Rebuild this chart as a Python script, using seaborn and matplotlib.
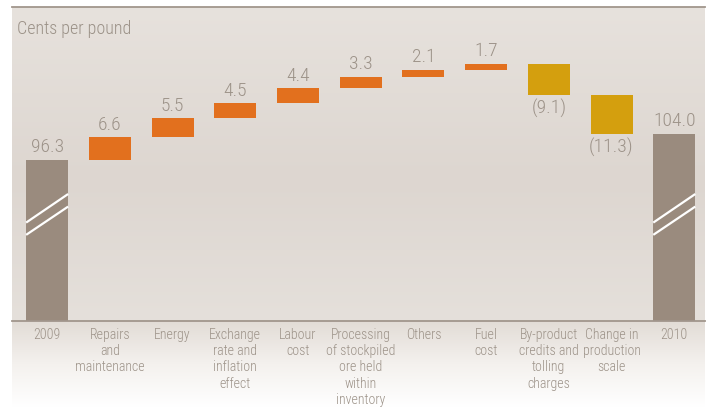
import numpy as np
import pandas as pd
import matplotlib
matplotlib.use("Agg")
import matplotlib.pyplot as plt
import matplotlib.transforms as mtransforms
from matplotlib.colors import LinearSegmentedColormap
import seaborn as sns

# Unit cash cost bridge, cents per pound
categories = [
    "2009",
    "Repairs\nand\nmaintenance",
    "Energy",
    "Exchange\nrate and\ninflation\neffect",
    "Labour\ncost",
    "Processing\nof stockpiled\nore held\nwithin\ninventory",
    "Others",
    "Fuel\ncost",
    "By-product\ncredits and\ntolling\ncharges",
    "Change in\nproduction\nscale",
    "2010",
]
start_value = 96.3
changes = [6.6, 5.5, 4.5, 4.4, 3.3, 2.1, 1.7, -9.1, -11.3]
end_value = 104.0

GREY = "#9a8b7e"
ORANGE = "#e2701e"
GOLD = "#d49f0e"
TEXT = "#9c9288"
RULE = "#a1968c"

# bar extents for the waterfall
heights = [start_value] + changes + [end_value]
bottoms = [0.0] + list(start_value + np.concatenate([[0], np.cumsum(changes)[:-1]])) + [0.0]
kinds = ["total"] + ["up" if c > 0 else "down" for c in changes] + ["total"]
colors = {"total": GREY, "up": ORANGE, "down": GOLD}

df = pd.DataFrame({"item": categories, "height": heights})

sns.set_theme(style="white")
plt.rcParams["font.family"] = ["Liberation Sans Narrow", "Roboto Condensed",
                               "Noto Sans Condensed", "Open Sans Condensed",
                               "Noto Sans", "DejaVu Sans"]
plt.rcParams["font.stretch"] = "condensed"
plt.rcParams["font.weight"] = "light"

W, H = 708, 407
fig = plt.figure(figsize=(W / 100, H / 100), dpi=100)

left, right, base_y, top_y = 12, 705, 321.3, 7
ax_pos = [left / W, (H - base_y) / H, (right - left) / W, (base_y - top_y) / H]

# soft fade below the baseline
bg = fig.add_axes([left / W, 0, (right - left) / W, (H - base_y) / H], zorder=0)
fade = LinearSegmentedColormap.from_list("fade", ["#ffffff", "#f4f1ee", "#e2dcd6"])
bg.imshow(np.linspace(0, 1, 256).reshape(-1, 1), cmap=fade, aspect="auto",
          origin="lower", extent=[0, 1, 0, 1])
bg.set_axis_off()

ax = fig.add_axes(ax_pos, zorder=2)
ax.set_facecolor("none")

# panel shading
panel = LinearSegmentedColormap.from_list(
    "panel", [(0, "#e5e0db"), (0.45, "#ddd6d0"), (1, "#e7e2dd")])
ax.imshow(np.linspace(0, 1, 256).reshape(-1, 1), cmap=panel, aspect="auto",
          origin="lower", extent=[0, 1, 0, 1], transform=ax.transAxes, zorder=0)

sns.barplot(data=df, x="item", y="height", order=categories, bottom=bottoms,
            color=GREY, saturation=1, width=0.67, errorbar=None, ax=ax,
            zorder=2, linewidth=0)

for patch, kind in zip(ax.patches, kinds):
    patch.set_facecolor(colors[kind])
    patch.set_edgecolor(colors[kind])

ax.set_xlim(-0.56, 10.49)
ax.set_ylim(49.1, 141.0)

# value labels
for i, (h, b, kind) in enumerate(zip(heights, bottoms, kinds)):
    if kind == "down":
        ax.annotate(f"({abs(h):.1f})", (i, b + h), xytext=(0, -3),
                    textcoords="offset points", ha="center", va="top",
                    fontsize=14, color=TEXT, zorder=4)
    else:
        ax.annotate(f"{h:.1f}", (i, b + h), xytext=(0, 2.5),
                    textcoords="offset points", ha="center", va="bottom",
                    fontsize=14, color=TEXT, zorder=4)

# axis-break slashes on the total bars
trans = mtransforms.blended_transform_factory(ax.transData, ax.transAxes)
for i, kind in enumerate(kinds):
    if kind != "total":
        continue
    for y0, y1 in [(0.314, 0.405), (0.275, 0.365)]:
        ax.plot([i - 0.335, i + 0.335], [y0, y1], transform=trans, color="white",
                lw=1.6, solid_capstyle="butt", zorder=3)

ax.set_xlabel("")
ax.set_ylabel("")
ax.set_yticks([])
ax.tick_params(axis="x", length=0, pad=4.5)
for lbl in ax.get_xticklabels():
    lbl.set_fontsize(10)
    lbl.set_color(TEXT)
    lbl.set_linespacing(1.22)
    lbl.set_ha("center")
    lbl.set_va("top")

for side in ["left", "right"]:
    ax.spines[side].set_visible(False)
for side in ["top", "bottom"]:
    ax.spines[side].set_visible(True)
    ax.spines[side].set_color(RULE)
    ax.spines[side].set_linewidth(1.3)

fig.text(17 / W, 1 - 34.3 / H, "Cents per pound", fontsize=13, color=TEXT,
         ha="left", va="baseline")

fig.savefig("out.png", dpi=100)
